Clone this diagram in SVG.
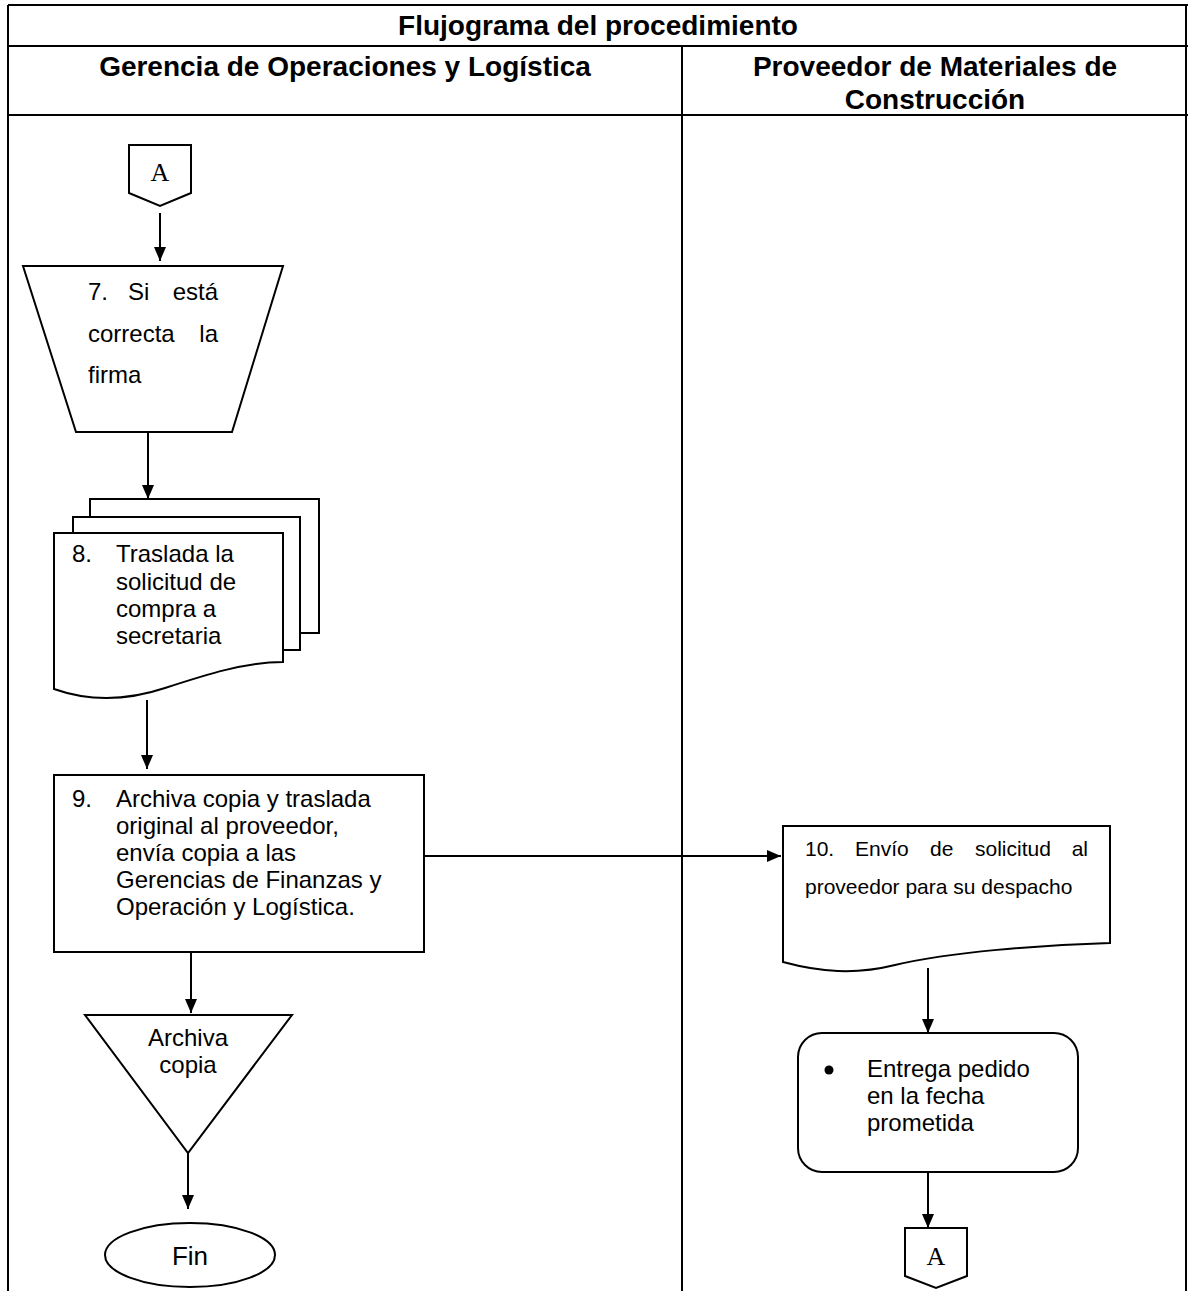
<svg xmlns="http://www.w3.org/2000/svg" width="1188" height="1291" viewBox="0 0 1188 1291">
  <style>
    .shape { fill: #fff; stroke: #000; stroke-width: 2; }
    .grid { stroke: #000; stroke-width: 2; fill: none; }
    .edge { stroke: #000; stroke-width: 2; fill: none; marker-end: url(#arrow); }
    .head { font-family: "Liberation Sans", Arial, sans-serif; font-weight: bold; font-size: 28px; fill: #000; text-anchor: middle; }
    .t24 { font-family: "Liberation Sans", Arial, sans-serif; font-size: 24px; fill: #000; }
    .t21 { font-family: "Liberation Sans", Arial, sans-serif; font-size: 21px; fill: #000; }
    .mid { text-anchor: middle; }
    .end { text-anchor: end; }
    .conn { font-family: "Liberation Serif", "Times New Roman", serif; font-size: 26px; fill: #000; text-anchor: middle; }
  </style>
  <defs>
    <marker id="arrow" viewBox="0 0 14 12" refX="14" refY="6" markerWidth="14" markerHeight="12" markerUnits="userSpaceOnUse" orient="auto">
      <path d="M0,0 L14,6 L0,12 z" fill="#000"/>
    </marker>
  </defs>

  <rect width="1188" height="1291" fill="#fff"/>

  <!-- swimlane table -->
  <g id="table">
    <line class="grid" x1="8" y1="5" x2="1188" y2="5"/>
    <line class="grid" x1="8" y1="46" x2="1188" y2="46"/>
    <line class="grid" x1="8" y1="115" x2="1188" y2="115"/>
    <line class="grid" x1="8" y1="5" x2="8" y2="1291"/>
    <line class="grid" x1="1186" y1="5" x2="1186" y2="1291"/>
    <line class="grid" x1="682" y1="46" x2="682" y2="1291"/>
    <text class="head" x="598" y="35">Flujograma del procedimiento</text>
    <text class="head" x="345" y="76">Gerencia de Operaciones y Logística</text>
    <text class="head" x="935" y="76">Proveedor de Materiales de</text>
    <text class="head" x="935" y="109">Construcción</text>
  </g>

  <!-- connectors -->
  <g id="connectors">
    <line class="edge" x1="160" y1="213" x2="160" y2="261"/>
    <line class="edge" x1="148" y1="432" x2="148" y2="499"/>
    <line class="edge" x1="147" y1="700" x2="147" y2="769"/>
    <line class="edge" x1="424" y1="856" x2="781" y2="856"/>
    <line class="edge" x1="191" y1="952" x2="191" y2="1013"/>
    <line class="edge" x1="188" y1="1153" x2="188" y2="1209"/>
    <line class="edge" x1="928" y1="968" x2="928" y2="1033"/>
    <line class="edge" x1="928" y1="1172" x2="928" y2="1228"/>
  </g>

  <!-- off-page connector A (entry) -->
  <g id="connA-top">
    <path class="shape" d="M129,145 L191,145 L191,193 L160,206 L129,193 Z"/>
    <text class="conn" x="160" y="181">A</text>
  </g>

  <!-- step 7: manual operation -->
  <g id="step7">
    <path class="shape" d="M23,266 L283,266 L232,432 L76,432 Z"/>
    <text class="t24" x="88" y="300">7.</text>
    <text class="t24" x="128" y="300">Si</text>
    <text class="t24 end" x="218" y="300">está</text>
    <text class="t24" x="88" y="342">correcta</text>
    <text class="t24 end" x="218" y="342">la</text>
    <text class="t24" x="88" y="383">firma</text>
  </g>

  <!-- step 8: multiple documents -->
  <g id="step8">
    <path class="shape" d="M90,517 L90,499 L319,499 L319,633 L300,633"/>
    <path class="shape" d="M73,533 L73,517 L300,517 L300,650 L283,650"/>
    <path class="shape" d="M54,533 L283,533 L283,662 C245,662 205,675 165,688 C120,703 85,700 54,689 Z"/>
    <text class="t24" x="72" y="562">8.</text>
    <text class="t24" x="116" y="562">Traslada la</text>
    <text class="t24" x="116" y="590">solicitud de</text>
    <text class="t24" x="116" y="617">compra a</text>
    <text class="t24" x="116" y="644">secretaria</text>
  </g>

  <!-- step 9: process -->
  <g id="step9">
    <rect class="shape" x="54" y="775" width="370" height="177"/>
    <text class="t24" x="72" y="807">9.</text>
    <text class="t24" x="116" y="807">Archiva copia y traslada</text>
    <text class="t24" x="116" y="834">original al proveedor,</text>
    <text class="t24" x="116" y="861">envía copia a las</text>
    <text class="t24" x="116" y="888">Gerencias de Finanzas y</text>
    <text class="t24" x="116" y="915">Operación y Logística.</text>
  </g>

  <!-- archive -->
  <g id="archive">
    <path class="shape" d="M85,1015 L292,1015 L188,1153 Z"/>
    <text class="t24 mid" x="188" y="1046">Archiva</text>
    <text class="t24 mid" x="188" y="1073">copia</text>
  </g>

  <!-- end terminator -->
  <g id="fin">
    <ellipse class="shape" cx="190" cy="1255" rx="85" ry="32"/>
    <text class="t24 mid" x="190" y="1265" style="font-size:26px">Fin</text>
  </g>

  <!-- step 10: document -->
  <g id="step10">
    <path class="shape" d="M783,826 L1110,826 L1110,943 C1040,945 950,952 895,965 C855,975 820,972 783,962 Z"/>
    <text class="t21" x="805" y="856">10.</text>
    <text class="t21" x="855" y="856">Envío</text>
    <text class="t21" x="930" y="856">de</text>
    <text class="t21" x="975" y="856">solicitud</text>
    <text class="t21 end" x="1088" y="856">al</text>
    <text class="t21" x="805" y="894">proveedor para su despacho</text>
  </g>

  <!-- delivery -->
  <g id="delivery">
    <rect class="shape" x="798" y="1033" width="280" height="139" rx="24" ry="24"/>
    <circle cx="829" cy="1070" r="4.5" fill="#000"/>
    <text class="t24" x="867" y="1077">Entrega pedido</text>
    <text class="t24" x="867" y="1104">en la fecha</text>
    <text class="t24" x="867" y="1131">prometida</text>
  </g>

  <!-- off-page connector A (exit) -->
  <g id="connA-bottom">
    <path class="shape" d="M905,1228 L967,1228 L967,1276 L936,1288 L905,1276 Z"/>
    <text class="conn" x="936" y="1265">A</text>
  </g>
</svg>
